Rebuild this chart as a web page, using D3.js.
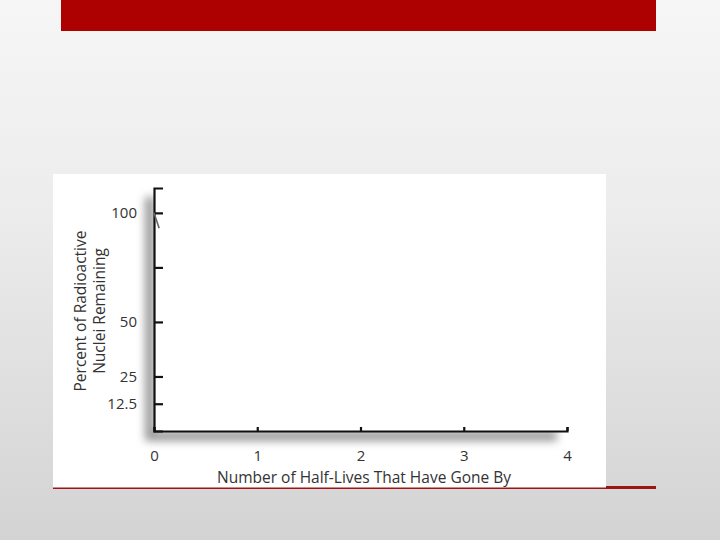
<!DOCTYPE html>
<html lang="en">
<head>
    <meta charset="UTF-8">
    <title>half-lives</title>
    <script src="https://cdn.jsdelivr.net/npm/d3@7/dist/d3.min.js"></script>
    <style>
        body { margin: 0; }
        svg text {
            font-family: "Open Sans", "DejaVu Sans", sans-serif;
            fill: #333;
        }
        svg .axis path, svg .axis line {
            stroke: #111;
            stroke-width: 2.2px;
        }
        svg .axis text {
            font-size: 15px;
        }
        svg .curve {
            fill: none;
            stroke: #666;
            stroke-width: 1.6px;
        }
    </style>
</head>
<body>
    <svg width="720" height="540"></svg>
    <script>
        // axis values
        var halfLifeTicks = [0, 1, 2, 3, 4],
            percentTicks = [100, 75, 50, 25, 12.5],
            percentLabels = ['100', '', '50', '25', '12.5'],
            // only the first bit of the decay curve is drawn
            curveHalfLives = [0, 0.05],
            curvePercent = [100, 93];

        var svg = d3.select('svg'),
            defs = svg.append('defs');

        var bg = defs.append('linearGradient')
            .attr('id', 'bg')
            .attr('x1', 0).attr('y1', 0).attr('x2', 0).attr('y2', 1);
        bg.append('stop').attr('offset', '0%').attr('stop-color', '#f6f6f6');
        bg.append('stop').attr('offset', '40%').attr('stop-color', '#ececec');
        bg.append('stop').attr('offset', '100%').attr('stop-color', '#d3d3d3');

        defs.append('filter')
            .attr('id', 'blur')
            .attr('x', '-20%').attr('y', '-20%')
            .attr('width', '140%').attr('height', '140%')
            .append('feGaussianBlur')
            .attr('stdDeviation', 4);

        svg.append('rect')
            .attr('width', 720).attr('height', 540)
            .attr('fill', 'url(#bg)');

        // slide decoration
        svg.append('rect')
            .attr('x', 61).attr('y', 0)
            .attr('width', 595).attr('height', 31)
            .attr('fill', '#ad0000');

        svg.append('rect')
            .attr('x', 53).attr('y', 486)
            .attr('width', 603).attr('height', 3)
            .attr('fill', '#9c1414');

        svg.append('rect')
            .attr('x', 53).attr('y', 174)
            .attr('width', 553).attr('height', 313.5)
            .attr('fill', '#fff');

        var x = d3.scaleLinear().domain([0, 4]).range([154, 567]),
            y = d3.scaleLinear().domain([0, 111.4]).range([431, 188]);

        // soft shadow under the axes
        svg.append('path')
            .attr('d', 'M' + x(0) + ',' + (y(111.4) + 4) + 'V' + y(0) + 'H' + (x(4) - 6))
            .attr('transform', 'translate(-4,5)')
            .attr('fill', 'none')
            .attr('stroke', '#9a9a9a')
            .attr('stroke-width', 10)
            .attr('filter', 'url(#blur)');

        svg.append('rect')
            .attr('x', x(0) + 1).attr('y', 176)
            .attr('width', 450).attr('height', y(0) - 176)
            .attr('fill', '#fff');

        var yAxis = d3.axisLeft(y)
            .tickValues(percentTicks)
            .tickFormat(function(d, i) { return percentLabels[i]; })
            .tickSizeInner(-9)
            .tickSizeOuter(-9)
            .tickPadding(17);

        svg.append('g')
            .classed('axis', true)
            .attr('transform', 'translate(' + x(0) + ',0)')
            .call(yAxis)
            .call(function(g) { g.select('.domain').attr('fill', 'none'); })
            .call(function(g) { g.selectAll('text').attr('fill', '#333'); });

        var xAxis = d3.axisBottom(x)
            .tickValues(halfLifeTicks)
            .tickFormat(d3.format('d'))
            .tickSizeInner(-4)
            .tickSizeOuter(-4)
            .tickPadding(19);

        svg.append('g')
            .classed('axis', true)
            .attr('transform', 'translate(0,' + y(0) + ')')
            .call(xAxis)
            .call(function(g) { g.select('.domain').attr('fill', 'none'); })
            .call(function(g) { g.selectAll('text').attr('fill', '#333'); });

        var line = d3.line()
            .x(function(d) { return x(d[0]); })
            .y(function(d) { return y(d[1]); });

        svg.append('path')
            .classed('curve', true)
            .datum(d3.zip(curveHalfLives, curvePercent))
            .attr('d', line);

        // axis titles
        svg.append('text')
            .attr('x', 364).attr('y', 483)
            .attr('text-anchor', 'middle')
            .style('font-size', '15.5px')
            .text('Number of Half-Lives That Have Gone By');

        var yTitle = svg.append('text')
            .attr('transform', 'translate(86,311) rotate(-90)')
            .attr('text-anchor', 'middle')
            .style('font-size', '15.5px');
        yTitle.append('tspan').attr('x', 0).attr('dy', 0).text('Percent of Radioactive');
        yTitle.append('tspan').attr('x', 0).attr('dy', '1.2em').text('Nuclei Remaining');
    </script>
</body>
</html>
